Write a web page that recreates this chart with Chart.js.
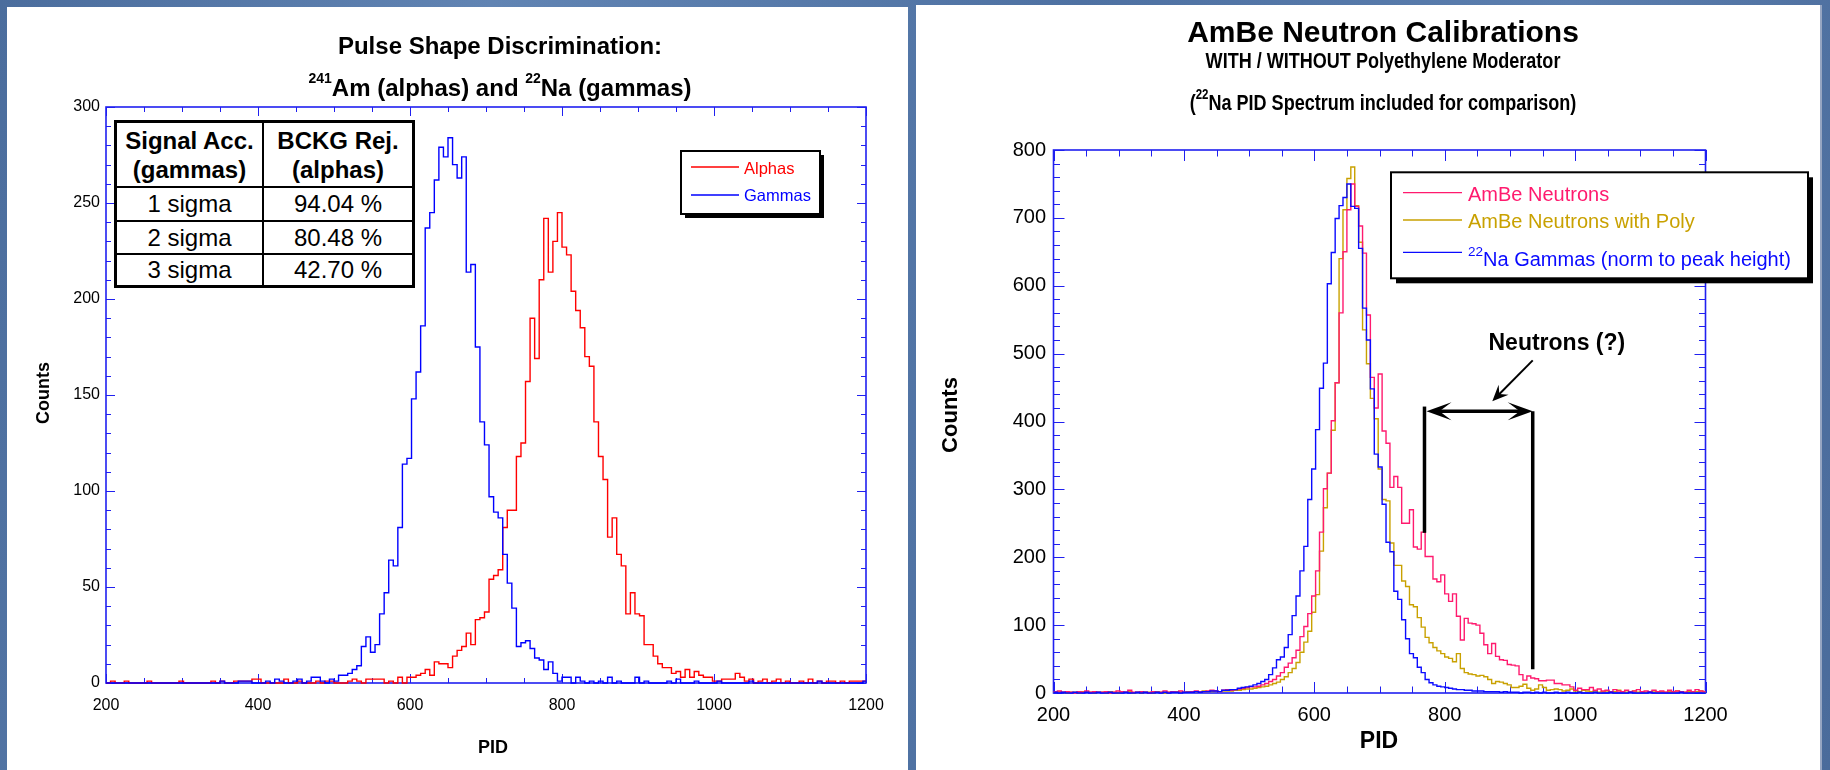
<!DOCTYPE html>
<html>
<head>
<meta charset="utf-8">
<title>PSD and AmBe PID spectra</title>
<script src="https://cdn.jsdelivr.net/npm/chart.js@4.4.1/dist/chart.umd.min.js"></script>
<style>
body {
    margin: 0; width: 1830px; height: 770px; overflow: hidden; position: relative;
    background: linear-gradient(100deg, #4b6d9d 0%, #6184b3 25%, #4e71a2 55%, #5b7eae 80%, #4a6b9b 100%);
    font-family: "Liberation Sans", Arial, sans-serif;
}
.panel { position: absolute; background: #fff; }
canvas { position: absolute; }
.ttl {
    position: absolute; width: 600px; text-align: center; font-weight: bold;
    line-height: 1; white-space: nowrap; color: #000;
}
.ttl sup { font-size: 14px; vertical-align: 0; position: relative; top: -13px; line-height: 0; }
.ttl.narrow { transform: scaleX(0.82); transform-origin: 50% 50%; }
.ttl.narrow sup { font-size: 14px; top: -11px; }
#accTable {
    position: absolute; left: 114px; top: 120px; border-collapse: separate; border-spacing: 0;
    border: 3px solid #000; background: #fff; font-size: 24px; color: #000; table-layout: fixed;
}
#accTable td, #accTable th {
    box-sizing: border-box; padding: 0; text-align: center;
    border-right: 2px solid #000; border-bottom: 2px solid #000;
}
#accTable tr td:last-child, #accTable tr th:last-child { border-right: none; }
#accTable tr:last-child td { border-bottom: none; }
#accTable th { font-weight: bold; line-height: 29px; height: 65px; }
</style>
</head>
<body>
<div class="panel" style="left:7px;top:7px;width:901px;height:763px"></div>
<div class="panel" style="left:916px;top:5px;width:906px;height:765px;box-shadow:inset -2px 0 0 #97a6c2"></div>
<canvas id="psdChart" width="901" height="763" style="left:7px;top:7px"></canvas>
<canvas id="ambeChart" width="906" height="765" style="left:916px;top:5px"></canvas>

<div class="ttl" style="left:200px;top:34px;font-size:24px">Pulse Shape Discrimination:</div>
<div class="ttl" style="left:200px;top:76px;font-size:24px"><sup>241</sup>Am (alphas) and <sup>22</sup>Na (gammas)</div>
<div class="ttl" style="left:1083px;top:17px;font-size:30px">AmBe Neutron Calibrations</div>
<div class="ttl narrow" style="left:1083px;top:50px;font-size:22px">WITH / WITHOUT Polyethylene Moderator</div>
<div class="ttl narrow" style="left:1083px;top:92px;font-size:22px">(<sup>22</sup>Na PID Spectrum included for comparison)</div>

<table id="accTable">
    <colgroup><col style="width:147px"><col style="width:148px"></colgroup>
    <tr><th>Signal Acc.<br>(gammas)</th><th>BCKG Rej.<br>(alphas)</th></tr>
    <tr style="height:34px"><td>1 sigma</td><td>94.04 %</td></tr>
    <tr style="height:33px"><td>2 sigma</td><td>80.48 %</td></tr>
    <tr style="height:30px"><td>3 sigma</td><td>42.70 %</td></tr>
</table>

<script>
// histogram binning (PID): bins 6 wide, first bin starts at 200
const binStart = 200;
const binWidth = 6;

// left plot: 241Am alphas / 22Na gammas, counts per bin
const alphaCounts = [
    0, 1, 0, 0, 1, 0, 0, 0, 0, 1,
    0, 0, 0, 0, 0, 0, 1, 0, 0, 0,
    0, 0, 0, 1, 0, 1, 0, 0, 1, 1,
    1, 1, 2, 2, 0, 0, 0, 0, 0, 2,
    0, 0, 1, 0, 0, 0, 1, 0, 1, 1,
    0, 0, 0, 1, 2, 1, 0, 2, 2, 2,
    2, 0, 1, 0, 3, 0, 3, 3, 4, 5,
    7, 4, 11, 10, 10, 8, 14, 17, 19, 26,
    20, 33, 34, 37, 54, 56, 59, 81, 90, 90,
    118, 125, 157, 190, 169, 210, 242, 214, 230, 245,
    227, 223, 204, 194, 185, 170, 165, 136, 118, 106,
    76, 86, 67, 61, 36, 47, 36, 35, 20, 20,
    14, 10, 8, 8, 5, 6, 3, 7, 3, 6,
    4, 3, 3, 1, 1, 2, 2, 2, 5, 3,
    1, 2, 0, 1, 2, 0, 1, 2, 0, 1,
    0, 0, 1, 0, 2, 0, 1, 0, 1, 1,
    0, 1, 0, 1, 1, 1, 1
];
const gammaCounts = [
    0, 0, 0, 0, 0, 0, 0, 0, 0, 0,
    0, 0, 0, 0, 0, 0, 0, 0, 0, 0,
    0, 0, 0, 0, 0, 1, 0, 0, 0, 1,
    1, 1, 0, 0, 0, 1, 0, 2, 1, 0,
    0, 1, 2, 0, 1, 3, 3, 1, 0, 2,
    1, 4, 4, 5, 7, 9, 19, 24, 16, 20,
    36, 47, 64, 61, 81, 114, 117, 148, 162, 186,
    237, 245, 262, 279, 274, 284, 270, 263, 274, 214,
    218, 175, 136, 124, 97, 89, 86, 67, 52, 39,
    19, 21, 22, 18, 13, 12, 7, 11, 5, 1,
    3, 3, 0, 3, 1, 0, 1, 0, 1, 0,
    3, 0, 1, 0, 0, 0, 3, 0, 1, 0,
    0, 0, 0, 1, 0, 2, 0, 0, 0, 1,
    0, 0, 0, 0, 1, 0, 0, 0, 0, 0,
    0, 1, 0, 0, 0, 0, 0, 0, 0, 0,
    0, 0, 0, 0, 0, 0, 1, 0, 0, 0,
    0, 0, 0, 0, 0, 0, 1
];

// right plot: AmBe without / with poly, 22Na scaled to the same peak height
const ambeCounts = [
    2, 3, 1, 2, 1, 0, 2, 1, 3, 1,
    2, 1, 1, 2, 0, 1, 3, 2, 1, 4,
    1, 1, 2, 1, 0, 2, 1, 1, 3, 1,
    2, 1, 3, 1, 1, 2, 3, 2, 2, 3,
    4, 3, 2, 4, 5, 4, 5, 6, 7, 8,
    9, 9, 10, 12, 14, 17, 20, 25, 30, 38,
    44, 52, 63, 83, 98, 117, 143, 180, 237, 301,
    324, 401, 457, 560, 650, 712, 750, 717, 688, 648,
    557, 465, 420, 470, 386, 368, 303, 319, 303, 250,
    250, 270, 215, 212, 237, 201, 201, 168, 164, 174,
    146, 135, 146, 113, 78, 110, 103, 102, 100, 88,
    71, 58, 73, 54, 49, 48, 42, 41, 40, 27,
    19, 25, 22, 21, 18, 18, 19, 19, 14, 14,
    12, 12, 9, 4, 7, 5, 5, 8, 4, 6,
    3, 4, 2, 5, 3, 2, 4, 2, 3, 5,
    2, 3, 2, 4, 2, 3, 1, 4, 2, 3,
    2, 1, 4, 2, 5, 3, 2
];
const ambePolyCounts = [
    1, 2, 1, 0, 1, 1, 0, 2, 1, 1,
    0, 1, 1, 0, 2, 1, 0, 1, 1, 2,
    0, 1, 0, 1, 1, 0, 2, 1, 0, 1,
    1, 2, 1, 1, 2, 1, 2, 1, 3, 2,
    2, 3, 2, 3, 3, 3, 4, 4, 5, 6,
    6, 7, 8, 9, 10, 12, 14, 16, 20, 24,
    30, 36, 45, 60, 75, 91, 119, 145, 209, 273,
    324, 387, 457, 640, 712, 758, 775, 718, 664, 535,
    485, 434, 404, 330, 285, 283, 221, 188, 188, 165,
    157, 130, 127, 111, 97, 82, 74, 67, 62, 58,
    53, 51, 46, 58, 36, 30, 28, 27, 25, 26,
    24, 20, 14, 17, 16, 14, 12, 8, 8, 10,
    13, 7, 4, 6, 12, 8, 4, 5, 6, 5,
    3, 4, 6, 3, 2, 4, 3, 2, 3, 1,
    2, 3, 1, 2, 4, 2, 1, 2, 3, 1,
    2, 1, 2, 3, 1, 2, 1, 2, 1, 3,
    2, 1, 2, 1, 2, 3, 1
];
const naGammaCounts = [
    1, 0, 1, 0, 0, 1, 0, 0, 1, 0,
    0, 1, 0, 0, 1, 0, 0, 0, 1, 0,
    0, 1, 0, 1, 0, 0, 1, 0, 1, 0,
    1, 1, 0, 1, 1, 1, 2, 1, 2, 2,
    3, 3, 2, 4, 4, 5, 5, 7, 8, 9,
    10, 12, 14, 17, 20, 27, 37, 49, 53, 67,
    86, 114, 143, 180, 216, 285, 330, 388, 449, 486,
    603, 649, 699, 718, 730, 750, 717, 714, 655, 567,
    520, 448, 352, 333, 278, 222, 208, 150, 138, 108,
    80, 58, 52, 38, 30, 20, 15, 12, 10, 9,
    8, 7, 6, 5, 5, 4, 4, 3, 3, 3,
    2, 2, 2, 2, 1, 2, 1, 1, 1, 0,
    1, 1, 0, 1, 0, 1, 0, 0, 1, 0,
    0, 1, 0, 0, 1, 0, 0, 0, 1, 0,
    0, 0, 1, 0, 0, 0, 0, 1, 0, 0,
    0, 0, 1, 0, 0, 0, 0, 0, 0, 0,
    1, 0, 0, 0, 0, 0, 0
];

// tick labels
const pidTicks = [200, 400, 600, 800, 1000, 1200];
const psdCountTicks = [0, 50, 100, 150, 200, 250, 300];
const ambeCountTicks = [0, 100, 200, 300, 400, 500, 600, 700, 800];

// "Neutrons (?)" markup on the right plot, in PID / counts
const neutronBars = [[769, 236, 422], [935, 35, 415]];   // pid, bottom, top
const neutronSpan = [769, 935, 415];                      // from pid, to pid, at counts
const calloutLabel = 'Neutrons (?)';
const calloutPos = [972, 505];
const calloutArrow = [935, 490, 873, 430];                // tail pid/counts -> tip pid/counts

const FONT = '"Liberation Sans", Arial, sans-serif';
Chart.defaults.font.family = FONT;

function toSteps(counts) {
    const pts = counts.map((c, i) => ({ x: binStart + i * binWidth, y: c }));
    pts.push({ x: 1200, y: counts[counts.length - 1] });
    return pts;
}

function histDataset(label, counts, color, order) {
    return {
        label: label,
        data: toSteps(counts),
        borderColor: color,
        borderWidth: 1.4,
        stepped: true,
        pointRadius: 0,
        fill: false,
        clip: false,
        order: order
    };
}

// ROOT style frame: inward ticks on all four sides + axis titles
const histFrame = {
    id: 'histFrame',
    beforeDatasetsDraw(chart, args, o) {
        const { ctx, chartArea: a } = chart;
        const x = chart.scales.x, y = chart.scales.y;
        ctx.save();
        ctx.strokeStyle = o.color;
        ctx.lineWidth = 1;
        ctx.beginPath();
        for (let v = x.min; v <= x.max; v += o.xMinor) {
            const px = Math.round(x.getPixelForValue(v)) + 0.5;
            const len = v % o.xMajor === 0 ? o.major : o.minor;
            ctx.moveTo(px, a.bottom); ctx.lineTo(px, a.bottom - len);
            ctx.moveTo(px, a.top); ctx.lineTo(px, a.top + len);
        }
        for (let v = y.min; v <= y.max; v += o.yMinor) {
            const py = Math.round(y.getPixelForValue(v)) + 0.5;
            const len = v % o.yMajor === 0 ? o.major : o.minor;
            ctx.moveTo(a.left, py); ctx.lineTo(a.left + len, py);
            ctx.moveTo(a.right, py); ctx.lineTo(a.right - len, py);
        }
        ctx.stroke();
        ctx.lineWidth = 1.6;
        ctx.strokeRect(a.left, a.top, a.right - a.left, a.bottom - a.top);

        ctx.fillStyle = '#000';
        ctx.textAlign = 'center';
        ctx.textBaseline = 'middle';
        ctx.font = 'bold ' + o.xTitleSize + 'px ' + FONT;
        ctx.fillText(o.xTitle, o.xTitleAt[0], o.xTitleAt[1]);
        ctx.font = 'bold ' + o.yTitleSize + 'px ' + FONT;
        ctx.translate(o.yTitleAt[0], o.yTitleAt[1]);
        ctx.rotate(-Math.PI / 2);
        ctx.fillText(o.yTitle, 0, 0);
        ctx.restore();
    }
};

// boxed legend with drop shadow; leading digits of a label become a superscript
const boxLegend = {
    id: 'boxLegend',
    afterDatasetsDraw(chart, args, o) {
        const ctx = chart.ctx;
        const [bx, by, bw, bh] = o.box;
        ctx.save();
        ctx.fillStyle = '#000';
        ctx.fillRect(bx + o.shadow, by + o.shadow, bw, bh);
        ctx.fillStyle = '#fff';
        ctx.fillRect(bx, by, bw, bh);
        ctx.strokeStyle = '#000';
        ctx.lineWidth = 2;
        ctx.strokeRect(bx, by, bw, bh);
        ctx.textAlign = 'left';
        ctx.textBaseline = 'alphabetic';
        o.rows.forEach(row => {
            const ds = chart.data.datasets[row.ds];
            ctx.strokeStyle = ds.borderColor;
            ctx.lineWidth = 1.3;
            ctx.beginPath();
            ctx.moveTo(o.lineX[0], row.lineY);
            ctx.lineTo(o.lineX[1], row.lineY);
            ctx.stroke();
            ctx.fillStyle = ds.borderColor;
            let tx = o.textX;
            let text = ds.label;
            const m = text.match(/^(\d+)(\D.*)$/);
            if (m) {
                ctx.font = o.supSize + 'px ' + FONT;
                ctx.fillText(m[1], tx, row.baseline - o.supRise);
                tx += ctx.measureText(m[1]).width;
                text = m[2];
            }
            ctx.font = o.fontSize + 'px ' + FONT;
            ctx.fillText(text, tx, row.baseline);
        });
        ctx.restore();
    }
};

function arrowHead(ctx, tx, ty, dx, dy, len, half, notch) {
    const nx = -dy, ny = dx;
    ctx.beginPath();
    ctx.moveTo(tx, ty);
    ctx.lineTo(tx - dx * len + nx * half, ty - dy * len + ny * half);
    ctx.lineTo(tx - dx * (len - notch), ty - dy * (len - notch));
    ctx.lineTo(tx - dx * len - nx * half, ty - dy * len - ny * half);
    ctx.closePath();
    ctx.fill();
}

const neutronCallout = {
    id: 'neutronCallout',
    afterDatasetsDraw(chart) {
        const { ctx, scales: { x, y } } = chart;
        ctx.save();
        ctx.strokeStyle = '#000';
        ctx.fillStyle = '#000';
        ctx.lineWidth = 3.5;
        neutronBars.forEach(([pid, lo, hi]) => {
            const px = x.getPixelForValue(pid);
            ctx.beginPath();
            ctx.moveTo(px, y.getPixelForValue(lo));
            ctx.lineTo(px, y.getPixelForValue(hi));
            ctx.stroke();
        });
        const ay = y.getPixelForValue(neutronSpan[2]);
        const ax0 = x.getPixelForValue(neutronSpan[0]) + 2;
        const ax1 = x.getPixelForValue(neutronSpan[1]);
        ctx.beginPath();
        ctx.moveTo(ax0 + 10, ay);
        ctx.lineTo(ax1 - 10, ay);
        ctx.stroke();
        arrowHead(ctx, ax0, ay, -1, 0, 25, 9, 12);
        arrowHead(ctx, ax1, ay, 1, 0, 25, 9, 12);

        const t0x = x.getPixelForValue(calloutArrow[0]), t0y = y.getPixelForValue(calloutArrow[1]);
        const t1x = x.getPixelForValue(calloutArrow[2]), t1y = y.getPixelForValue(calloutArrow[3]);
        const d = Math.hypot(t1x - t0x, t1y - t0y);
        const ux = (t1x - t0x) / d, uy = (t1y - t0y) / d;
        ctx.lineWidth = 2;
        ctx.beginPath();
        ctx.moveTo(t0x, t0y);
        ctx.lineTo(t1x - ux * 8, t1y - uy * 8);
        ctx.stroke();
        arrowHead(ctx, t1x, t1y, ux, uy, 16, 7, 6);

        ctx.font = 'bold 23px ' + FONT;
        ctx.textAlign = 'center';
        ctx.textBaseline = 'alphabetic';
        ctx.fillText(calloutLabel, x.getPixelForValue(calloutPos[0]), y.getPixelForValue(calloutPos[1]));
        ctx.restore();
    }
};

function axes(countTicks, yMax, tickSize, xPad, yPad, yWidth, xHeight) {
    return {
        x: {
            type: 'linear', min: 200, max: 1200,
            afterBuildTicks: s => { s.ticks = pidTicks.map(v => ({ value: v })); },
            afterFit: s => { s.height = xHeight; },
            grid: { display: false, drawTicks: false },
            border: { display: false },
            ticks: { color: '#000', font: { size: tickSize }, padding: xPad, autoSkip: false, maxRotation: 0, callback: v => String(v) }
        },
        y: {
            type: 'linear', min: 0, max: yMax,
            afterBuildTicks: s => { s.ticks = countTicks.map(v => ({ value: v })); },
            afterFit: s => { s.width = yWidth; },
            grid: { display: false, drawTicks: false },
            border: { display: false },
            ticks: { color: '#000', font: { size: tickSize }, padding: yPad, autoSkip: false, callback: v => String(v) }
        }
    };
}

new Chart(document.getElementById('psdChart'), {
    type: 'line',
    data: {
        datasets: [
            histDataset('Alphas', alphaCounts, '#ff0000', 1),
            histDataset('Gammas', gammaCounts, '#0000ff', 0)
        ]
    },
    options: {
        responsive: false,
        animation: false,
        events: [],
        layout: { padding: { top: 100, right: 42, left: 0, bottom: 0 } },
        scales: axes(psdCountTicks, 300, 16, 13.4, 6, 99, 87),
        plugins: {
            legend: { display: false },
            tooltip: { enabled: false },
            histFrame: {
                color: '#2020f0', xMinor: 50, xMajor: 200, yMinor: 10, yMajor: 50, major: 9, minor: 5,
                xTitle: 'PID', xTitleAt: [486, 741], xTitleSize: 18,
                yTitle: 'Counts', yTitleAt: [37, 386], yTitleSize: 18
            },
            boxLegend: {
                box: [674, 144, 139, 63], shadow: 4, lineX: [684, 732], textX: 737,
                fontSize: 16.5, supSize: 12, supRise: 8,
                rows: [{ ds: 0, lineY: 160, baseline: 167.3 }, { ds: 1, lineY: 188, baseline: 194 }]
            }
        }
    },
    plugins: [histFrame, boxLegend]
});

new Chart(document.getElementById('ambeChart'), {
    type: 'line',
    data: {
        datasets: [
            histDataset('AmBe Neutrons', ambeCounts, '#ff1a6e', 1),
            histDataset('AmBe Neutrons with Poly', ambePolyCounts, '#c9a100', 2),
            histDataset('22Na Gammas (norm to peak height)', naGammaCounts, '#0a0aff', 0)
        ]
    },
    options: {
        responsive: false,
        animation: false,
        events: [],
        layout: { padding: { top: 145, right: 116.5, left: 0, bottom: 0 } },
        scales: axes(ambeCountTicks, 800, 20, 10, 7.5, 137.5, 77),
        plugins: {
            legend: { display: false },
            tooltip: { enabled: false },
            histFrame: {
                color: '#2020f0', xMinor: 50, xMajor: 200, yMinor: 20, yMajor: 100, major: 11, minor: 6.5,
                xTitle: 'PID', xTitleAt: [463, 737], xTitleSize: 23,
                yTitle: 'Counts', yTitleAt: [35, 410], yTitleSize: 22
            },
            boxLegend: {
                box: [475, 167.3, 417, 106], shadow: 5, lineX: [487, 546], textX: 552,
                fontSize: 20, supSize: 13.5, supRise: 10.3,
                rows: [
                    { ds: 0, lineY: 187.7, baseline: 196 },
                    { ds: 1, lineY: 215, baseline: 223.3 },
                    { ds: 2, lineY: 247.3, baseline: 261 }
                ]
            }
        }
    },
    plugins: [histFrame, boxLegend, neutronCallout]
});
</script>
</body>
</html>
